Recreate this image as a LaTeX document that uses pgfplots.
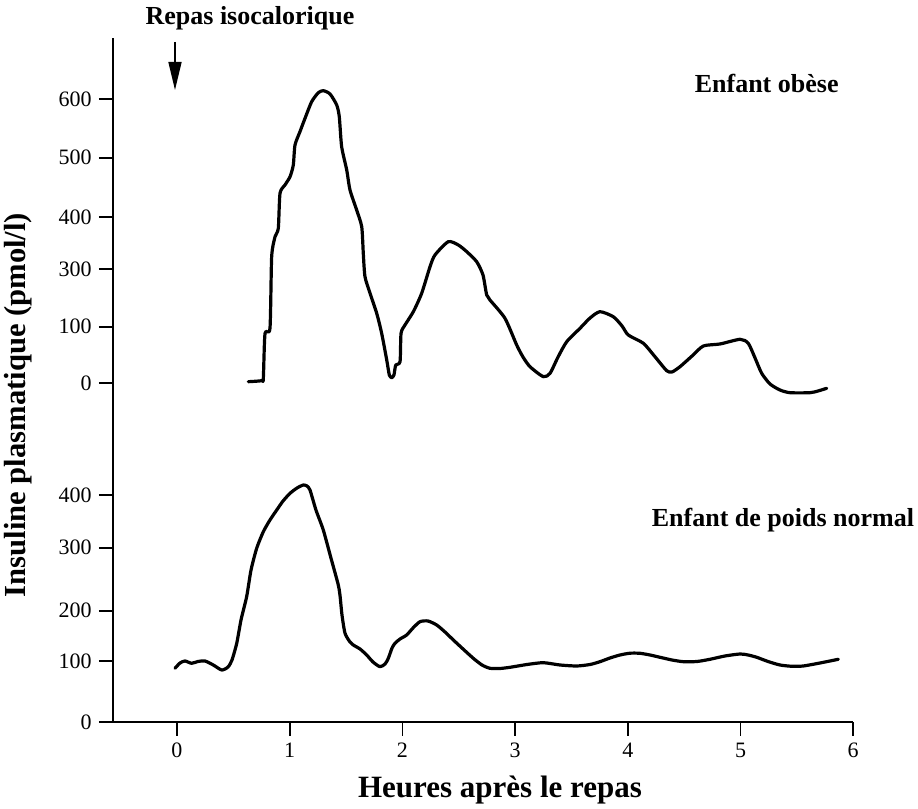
\documentclass[border=0pt]{standalone}
\usepackage{fontspec}
\setmainfont{Liberation Serif}
\usepackage{pgfplots}
\pgfplotsset{compat=1.18}
\usetikzlibrary{arrows.meta}

% Values: x in hours after the meal,
% y in drawing units of the published figure (the two curves share one frame,
% each with its own hand-placed pmol/l scale on the left).
\pgfplotstableread{
h      Y
0.633  340.3
0.752  341.3
0.766  343.7
0.781  388.7
0.825  393.7
0.840  465.3
0.870  485.3
0.899  493.7
0.914  528.7
0.958  537
1.003  545.3
1.032  557
1.047  577
1.091  590.3
1.136  603.7
1.195  620.3
1.254  629.3
1.298  631.3
1.358  628
1.417  617
1.440  605.3
1.461  575.3
1.506  552
1.535  532
1.594  512
1.639  495.3
1.653  468.7
1.668  445.3
1.713  428.7
1.772  408.7
1.816  388.7
1.861  362
1.884  347
1.905  344.3
1.925  347
1.941  357
1.979  360.3
1.988  388.7
2.023  397
2.097  410.3
2.171  428.7
2.245  455.3
2.289  467
2.407  480.3
2.496  477
2.571  470.3
2.659  460.3
2.715  447
2.748  427
2.777  422
2.910  403.7
3.014  377
3.070  365
3.132  355.3
3.250  345.3
3.310  348.7
3.381  365
3.458  380.3
3.576  393.7
3.665  404
3.753  410.3
3.871  405.3
3.949  396
4.004  387
4.138  378.7
4.241  365.3
4.345  351.3
4.392  350
4.463  355.3
4.570  366
4.670  376
4.818  378
4.996  382.7
5.069  378.7
5.129  364
5.188  348.7
5.262  338
5.350  332
5.439  329.3
5.617  329.3
5.688  331
5.765  333.7
}\obese

\pgfplotstableread{
h      Y
-0.018 53.7
0.027  59
0.071  61
0.130  58.7
0.186  60.5
0.248  61
0.322  57
0.397  52
0.453  55
0.488  62
0.530  78.7
0.568  102
0.618  125.3
0.657  152
0.707  173.7
0.766  190.3
0.825  202
0.885  212
0.941  221
1.003  228.7
1.065  234
1.121  237
1.153  236
1.180  232
1.233  212
1.298  192
1.366  164
1.429  138
1.446  127
1.464  107
1.491  88.7
1.535  80
1.564  77
1.624  73
1.683  67
1.739  60
1.801  55.3
1.846  58
1.875  63.7
1.908  74
1.934  78.7
1.979  83
2.038  87
2.094  94
2.156  100.3
2.227  101
2.304  97
2.378  90
2.452  82
2.538  73
2.629  63.7
2.706  57
2.777  53.7
2.866  53.5
2.955  54.7
3.106  57.5
3.250  59.3
3.398  57
3.547  56
3.665  57.5
3.753  60.3
3.842  64
3.931  67
4.020  68.8
4.108  68.7
4.197  67
4.286  64.7
4.392  62
4.493  60.3
4.614  60.5
4.729  62.7
4.862  66
4.996  68
5.067  67
5.144  64.7
5.244  60.5
5.350  57
5.457  55.7
5.557  56
5.705  59
5.868  62.7
}\normal

\begin{document}
\begin{tikzpicture}
\useasboundingbox (-88.5pt,-43.5pt) rectangle (370.5pt,361pt);
\begin{axis}[
  anchor=origin, at={(0pt,0pt)},
  x=56.35pt, y=0.5pt,
  xmin=-0.57, xmax=6.0, ymin=0, ymax=684,
  axis x line*=bottom, axis y line*=left,
  axis line style={line width=1pt},
  tick align=outside, major tick length=7pt,
  every tick/.style={line width=0.9pt, black},
  xtick={0,1,2,3,4,5,6},
  xticklabels={0,1,2,3,4,5,6},
  ytick={0,61,111.3,174.3,227,338.7,395.3,452.7,505,564.3,622.7},
  yticklabels={0,100,200,300,400,0,100,300,400,500,600},
  tick label style={font=\fontsize{11}{13}\selectfont},
  clip=false,
]
\addplot[black, line width=1.6pt, smooth, tension=0.4, line join=round, line cap=round] table[x=h,y=Y] {\obese};
\addplot[black, line width=1.6pt, smooth, tension=0.4, line join=round, line cap=round] table[x=h,y=Y] {\normal};
\end{axis}
\node[font=\fontsize{13}{15}\selectfont\bfseries] at (36.5pt,352pt) {Repas isocalorique};
\draw[line width=0.8pt, -{Triangle[length=14pt,width=6.5pt]}] (-1pt,340pt) -- (-1pt,316pt);
\node[font=\fontsize{13}{15}\selectfont\bfseries] at (294.85pt,319.5pt) {Enfant ob\`ese};
\node[font=\fontsize{13}{15}\selectfont\bfseries] at (303pt,101pt) {Enfant de poids normal};
\node[font=\fontsize{15.3}{17}\selectfont\bfseries, rotate=90] at (-79.5pt,158.5pt) {Insuline plasmatique (pmol/l)};
\node[font=\fontsize{15.5}{17}\selectfont\bfseries] at (161.5pt,-34pt) {Heures apr\`es le repas};
\end{tikzpicture}
\end{document}
